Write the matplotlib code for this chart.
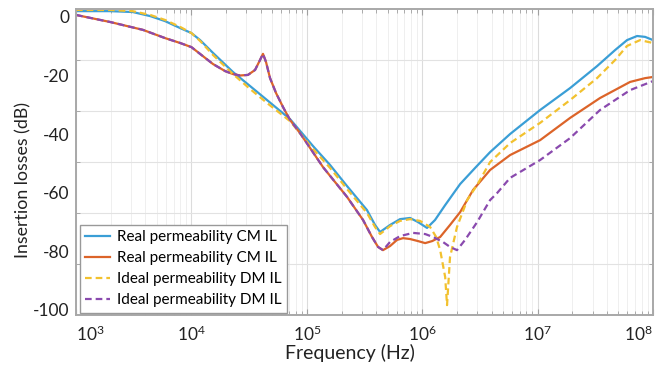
import numpy as np
import matplotlib
matplotlib.use("Agg")
import matplotlib.pyplot as plt
from matplotlib.ticker import LogLocator, NullFormatter, FixedLocator

plt.rcParams['font.family'] = ['Lato', 'DejaVu Sans']
plt.rcParams['mathtext.fontset'] = 'custom'
plt.rcParams['mathtext.rm'] = 'Lato'
plt.rcParams['mathtext.it'] = 'Lato'
plt.rcParams['axes.unicode_minus'] = False

# Real permeability CM IL (blue)
f_real1 = [1e3, 1.97e3, 3.1e3, 4.4e3, 5.9e3, 8e3, 1e4, 1.19e4, 1.54e4, 2.29e4,
           3.22e4, 4.52e4, 7.15e4, 1.13e5, 1.59e5, 2.23e5, 3.32e5, 3.9e5, 4.31e5,
           5.26e5, 6.42e5, 7.84e5, 9.19e5, 1.1e6, 1.29e6, 1.58e6, 2.13e6, 2.87e6,
           3.87e6, 5.77e6, 1.05e7, 1.91e7, 3.27e7, 4.69e7, 5.95e7, 7.27e7, 8.53e7, 1e8]
il_real1 = [2.0, 2.0, 1.7, 0.3, -1.4, -3.8, -5.5, -7.9, -12.3, -18.8,
            -23.6, -28.4, -34.9, -44.1, -50.6, -57.8, -66.0, -71.1, -73.5,
            -71.1, -69.1, -68.7, -70.1, -72.1, -69.4, -64.3, -57.1, -51.6,
            -46.2, -40.0, -31.8, -24.3, -16.8, -11.3, -7.9, -6.5, -6.8, -7.9]

# Real permeability CM IL (orange)
f_real2 = [1e3, 1.97e3, 3.8e3, 5.9e3, 8e3, 1e4, 1.54e4, 1.96e4, 2.29e4, 2.64e4,
           3.09e4, 3.56e4, 3.93e4, 4.17e4, 4.43e4, 4.8e4, 5.41e4, 6.22e4, 7.15e4,
           8.73e4, 1.38e5, 2.23e5, 3.07e5, 3.67e5, 4.14e5, 4.57e5, 5.26e5, 6.05e5,
           6.82e5, 7.84e5, 9.19e5, 1.06e6, 1.22e6, 1.43e6, 1.74e6, 2.13e6, 2.76e6,
           3.87e6, 5.77e6, 1.05e7, 1.91e7, 3.47e7, 6.32e7, 8.53e7, 1e8]
il_real2 = [0.7, -1.7, -4.4, -7.2, -8.9, -10.3, -16.1, -18.5, -19.5, -20.0,
            -19.8, -18.1, -14.7, -12.6, -15.4, -20.9, -26.0, -30.8, -35.2,
            -39.7, -51.3, -61.5, -69.4, -75.2, -78.6, -79.7, -78.3, -76.2,
            -75.6, -75.9, -76.6, -77.3, -76.6, -75.2, -71.1, -66.7, -59.1,
            -52.3, -47.2, -42.1, -34.5, -27.7, -22.2, -20.9, -20.5]

# Ideal permeability DM IL (yellow)
f_ideal1 = [1e3, 1.97e3, 3.1e3, 4.4e3, 5.9e3, 8e3, 1e4, 1.19e4, 1.54e4, 2.29e4,
            3.22e4, 4.52e4, 7.15e4, 1.13e5, 1.59e5, 2.23e5, 3.32e5, 3.9e5, 4.31e5,
            5.26e5, 6.42e5, 7.84e5, 9.57e5, 1.17e6, 1.32e6, 1.43e6, 1.58e6, 1.64e6,
            1.74e6, 2.0e6, 2.45e6, 2.99e6, 3.87e6, 5.77e6, 1.05e7, 1.91e7, 3.27e7,
            4.69e7, 5.95e7, 7.72e7, 1e8]
il_ideal1 = [2.4, 2.4, 2.0, 0.7, -1.0, -3.4, -5.5, -8.2, -13.0, -19.5,
             -24.6, -29.4, -35.6, -45.1, -51.6, -58.8, -67.0, -71.8, -74.2,
             -71.5, -69.7, -69.1, -69.7, -71.8, -75.2, -79.7, -88.9, -98.5,
             -82.1, -71.8, -62.6, -57.4, -49.6, -43.1, -36.2, -28.4, -20.9,
             -14.7, -9.9, -7.9, -8.9]

# Ideal permeability DM IL (purple)
f_ideal2 = [1e3, 1.97e3, 3.8e3, 5.9e3, 8e3, 1e4, 1.54e4, 1.96e4, 2.29e4, 2.64e4,
            3.09e4, 3.56e4, 3.93e4, 4.17e4, 4.43e4, 4.8e4, 5.41e4, 6.22e4, 7.15e4,
            8.73e4, 1.38e5, 2.23e5, 3.07e5, 3.67e5, 4.14e5, 4.57e5, 5.26e5, 6.42e5,
            8.32e5, 1.06e6, 1.24e6, 1.51e6, 1.74e6, 2.0e6, 2.35e6, 2.99e6, 3.87e6,
            4.45e6, 5.77e6, 1.05e7, 1.91e7, 3.47e7, 6.32e7, 1e8]
il_ideal2 = [0.7, -1.7, -4.4, -7.2, -8.9, -10.3, -16.1, -18.5, -19.5, -20.0,
             -19.8, -18.1, -14.7, -12.6, -15.4, -20.9, -26.0, -30.8, -35.2,
             -39.7, -51.3, -61.5, -69.4, -75.2, -78.6, -79.7, -76.9, -74.9,
             -73.8, -74.2, -75.2, -76.9, -78.6, -79.7, -76.2, -70.1, -62.6,
             -60.2, -55.0, -48.9, -41.4, -31.8, -25.0, -21.9]

labels = ["Real permeability CM IL", "Real permeability CM IL",
          "Ideal permeability DM IL", "Ideal permeability DM IL"]
yticks = [0, -20, -40, -60, -80, -100]
xticks = [1e3, 1e4, 1e5, 1e6, 1e7, 1e8]

fig = plt.figure(figsize=(6.61, 3.70), dpi=100)
ax = fig.add_axes([0.115, 0.15, 0.873, 0.827])

ax.plot(f_real1, il_real1, color='#3a9ed6', lw=1.6, label=labels[0])
ax.plot(f_real2, il_real2, color='#dc6429', lw=1.6, label=labels[1])
ax.plot(f_ideal1, il_ideal1, color='#f2c12e', lw=1.6, ls=(0, (3, 1.8)), label=labels[2])
ax.plot(f_ideal2, il_ideal2, color='#8a4aae', lw=1.6, ls=(0, (3, 1.8)), label=labels[3])

ax.set_xscale('log')
ax.set_xlim(1e3, 1e8)
ylo, yhi = -101.7, 2.9
ax.set_ylim(ylo, yhi)
ax.set_xticks(xticks)

# y labels without tick marks; grid/ticks sit on an even 6-way split of the axis
ax.set_yticks(yticks)
ax.tick_params(axis='y', which='major', length=0, pad=5)
ax.yaxis.set_minor_locator(FixedLocator(np.linspace(ylo, yhi, 7)[1:-1]))
ax.xaxis.set_minor_locator(LogLocator(base=10, subs=np.arange(2, 10)))
ax.xaxis.set_minor_formatter(NullFormatter())

ax.tick_params(which='both', direction='in', top=True, right=True, colors='#a0a0a0',
               labelcolor='#222222', labelsize=12.5)
ax.tick_params(axis='x', which='major', length=4, pad=7)
ax.tick_params(which='minor', length=3)
ax.grid(True, axis='x', which='major', color='#dcdcdc', lw=0.8)
ax.grid(True, axis='x', which='minor', color='#ededed', lw=0.6)
ax.grid(True, axis='y', which='minor', color='#e2e2e2', lw=0.8)
ax.set_axisbelow(True)
for s in ax.spines.values():
    s.set_color('#a8a8a8')
    s.set_linewidth(1.4)

ax.set_xlabel("Frequency (Hz)", fontsize=14, color='#222222')
ax.xaxis.set_label_coords(0.475, -0.095)
ax.set_ylabel("Insertion losses (dB)", fontsize=12.8, color='#222222')
ax.yaxis.set_label_coords(-0.078, 0.44)

leg = ax.legend(loc='lower left', bbox_to_anchor=(0.007, 0.006), fontsize=11,
                frameon=True, fancybox=False, edgecolor='#999999', framealpha=1,
                handlelength=1.6, handletextpad=0.45, labelspacing=0.46,
                borderpad=0.35, borderaxespad=0)
leg.get_frame().set_linewidth(1.0)

fig.canvas.draw()
mt = ax.xaxis.get_major_ticks()
mt[0].label1.set_horizontalalignment('left')
mt[-1].label1.set_horizontalalignment('right')

fig.savefig("out.png", dpi=100)
